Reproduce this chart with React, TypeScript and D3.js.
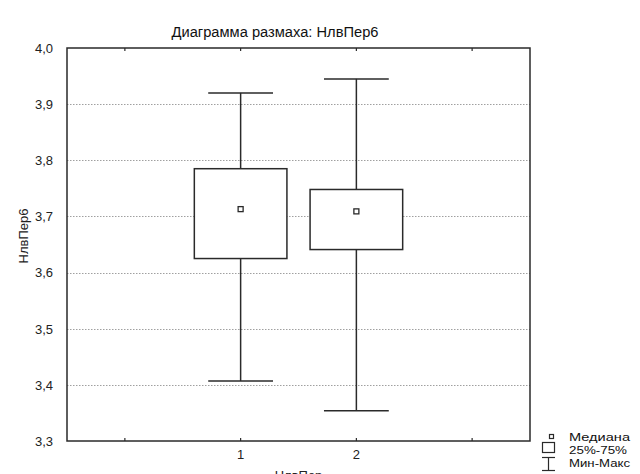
import React from "react";
import * as d3 from "d3";

// Box plot summary for НлвПер6, grouped by НлвПер
const groups = [1, 2];
const groupLabels = ["1", "2"];
const minValues = [3.407, 3.354];
const q1Values = [3.625, 3.641];
const medianValues = [3.713, 3.709];
const q3Values = [3.785, 3.748];
const maxValues = [3.92, 3.945];

const yTickValues = [3.3, 3.4, 3.5, 3.6, 3.7, 3.8, 3.9, 4.0];
const xTickValues = [0, 1, 2, 3];

const legendLabels = ["Медиана", "25%-75%", "Мин-Макс"];

const W = 640;
const H = 474;
const frame = { left: 67, right: 530, top: 48, bottom: 441 };
const FONT = "Arial, 'Liberation Sans', Helvetica, sans-serif";
const INK = "#2a2a2a";

export default function App() {
  const x = d3.scaleLinear().domain([-0.5, 3.5]).range([frame.left, frame.right]);
  const y = d3.scaleLinear().domain([3.3, 4.0]).range([frame.bottom, frame.top]);
  const fmt = (v: number) => d3.format(".1f")(v).replace(".", ",");

  const boxHalf = 0.4;
  const capHalf = 0.28;

  const rows = groups.map((g, i) => ({
    g,
    min: minValues[i],
    q1: q1Values[i],
    med: medianValues[i],
    q3: q3Values[i],
    max: maxValues[i],
  }));

  return (
    <svg
      width={W}
      height={H}
      style={{ position: "absolute", left: 0, top: 0, background: "#fff" }}
      fontFamily={FONT}
    >
      <rect x={0} y={0} width={W} height={H} fill="#fff" />

      {/* title */}
      <text
        x={275}
        y={36.5}
        fontSize={14}
        textAnchor="middle"
        fill="#111"
        textLength={207}
        lengthAdjust="spacingAndGlyphs"
      >
        Диаграмма размаха:  НлвПер6
      </text>

      {/* horizontal grid */}
      {yTickValues
        .filter((v) => v > 3.3 && v < 4.0)
        .map((v) => (
          <line
            key={`g${v}`}
            x1={frame.left}
            x2={frame.right}
            y1={Math.round(y(v)) + 0.5}
            y2={Math.round(y(v)) + 0.5}
            stroke="#a0a0a0"
            strokeWidth={1}
            strokeDasharray="1.5,1.5"
          />
        ))}

      {/* y tick labels */}
      {yTickValues.map((v) => (
        <text
          key={`yl${v}`}
          x={53}
          y={y(v) + 4.8}
          fontSize={13}
          textAnchor="end"
          fill="#222"
        >
          {fmt(v)}
        </text>
      ))}

      {/* x ticks, top and bottom */}
      {xTickValues.map((v) => (
        <g key={`xt${v}`}>
          <line x1={x(v)} x2={x(v)} y1={frame.top} y2={frame.top + 3} stroke={INK} strokeWidth={1.2} />
          <line x1={x(v)} x2={x(v)} y1={frame.bottom} y2={frame.bottom - 3} stroke={INK} strokeWidth={1.2} />
        </g>
      ))}

      {/* x tick labels */}
      {groups.map((g, i) => (
        <text key={`xl${g}`} x={x(g)} y={459} fontSize={13} textAnchor="middle" fill="#222">
          {groupLabels[i]}
        </text>
      ))}

      {/* boxes and whiskers */}
      {rows.map((r) => (
        <g key={`b${r.g}`} stroke={INK} strokeWidth={1.5} fill="none">
          <line x1={x(r.g)} x2={x(r.g)} y1={y(r.max)} y2={y(r.q3)} />
          <line x1={x(r.g)} x2={x(r.g)} y1={y(r.q1)} y2={y(r.min)} />
          <line x1={x(r.g - capHalf)} x2={x(r.g + capHalf)} y1={y(r.max)} y2={y(r.max)} />
          <line x1={x(r.g - capHalf)} x2={x(r.g + capHalf)} y1={y(r.min)} y2={y(r.min)} />
          <rect
            x={x(r.g - boxHalf)}
            y={y(r.q3)}
            width={x(r.g + boxHalf) - x(r.g - boxHalf)}
            height={y(r.q1) - y(r.q3)}
            fill="#fff"
          />
          <rect
            x={x(r.g) - 2.5}
            y={y(r.med) - 2.5}
            width={5}
            height={5}
            fill="#fff"
            strokeWidth={1.3}
          />
        </g>
      ))}

      {/* plot frame */}
      <rect
        x={frame.left}
        y={frame.top}
        width={frame.right - frame.left}
        height={frame.bottom - frame.top}
        fill="none"
        stroke={INK}
        strokeWidth={1.5}
      />

      {/* axis titles */}
      <text
        transform={`translate(28,236) rotate(-90)`}
        fontSize={13}
        textAnchor="middle"
        fill="#222"
      >
        НлвПер6
      </text>
      <text x={(frame.left + frame.right) / 2} y={480} fontSize={13} textAnchor="middle" fill="#222">
        НлвПер
      </text>

      {/* legend */}
      <g stroke={INK} fill="none">
        <rect x={549.5} y={434.5} width={4} height={4} fill="#fff" strokeWidth={1.2} />
        <rect x={542.5} y={442.5} width={12} height={10} fill="#fff" strokeWidth={1.2} />
        <line x1={542} x2={555} y1={457.5} y2={457.5} strokeWidth={1.2} />
        <line x1={548.5} x2={548.5} y1={457.5} y2={470.5} strokeWidth={1.2} />
        <line x1={542} x2={555} y1={470.5} y2={470.5} strokeWidth={1.2} />
      </g>
      {legendLabels.map((t, i) => (
        <text
          key={t}
          x={569}
          y={[440.5, 453.5, 467][i]}
          fontSize={11.5}
          fill="#111"
          textLength={[61, 58, 61][i]}
          lengthAdjust="spacingAndGlyphs"
        >
          {t}
        </text>
      ))}
    </svg>
  );
}
